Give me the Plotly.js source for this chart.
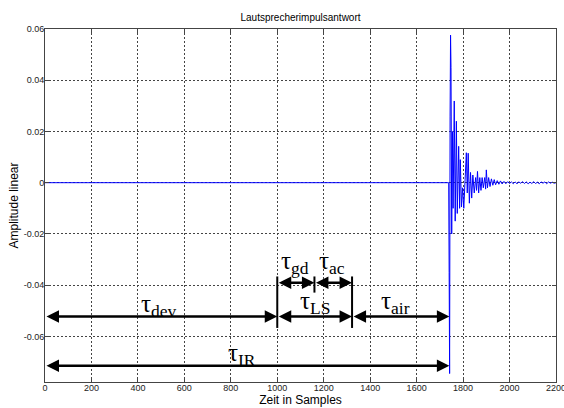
<!DOCTYPE html>
<html>
<head>
<meta charset="utf-8">
<script src="https://cdn.plot.ly/plotly-3.0.1.min.js"></script>
<style>html,body{margin:0;padding:0;background:#fff;}#chart{width:564px;height:408px;}</style>
</head>
<body>
<div id="chart"></div>
<script>
// ---- data ----
const sampleIdx = [0, 1738, 1740, 1742, 1744, 1746, 1748, 1751, 1754, 1757, 1762, 1766, 1771, 1775, 1781, 1785, 1788, 1793, 1798, 1803, 1808, 1814, 1818, 1822, 1827, 1832, 1837, 1842, 1848, 1854, 1858, 1862, 1867, 1872, 1877, 1882, 1887, 1893, 1897, 1900, 1905, 1910, 1916, 1922, 1928, 1934, 1940, 1947, 1954, 1961, 1968, 1976, 1984, 1992, 2000, 2008, 2016, 2024, 2032, 2040, 2048, 2056, 2064, 2072, 2080, 2088, 2096, 2104, 2112, 2120, 2128, 2136, 2144, 2152, 2160, 2168, 2176, 2184, 2192, 2200];
const amplitude = [0, 0, -0.035, -0.0745, 0.026, 0.0576, 0.045, -0.02, 0.02, -0.01, 0.0319, -0.015, 0.024, -0.012, 0.0142, -0.01, 0.009, -0.0095, -0.002, -0.01, 0.002, 0.0117, -0.004, 0.0115, -0.008, 0.004, -0.006, 0.003, -0.004, 0.002, -0.003, 0.0044, -0.004, 0.002, -0.003, 0.002, -0.002, 0.002, -0.0025, 0.005, -0.002, 0.002, -0.0015, 0.0015, -0.001, 0.0012, -0.0008, 0.0008, -0.0006, 0.0007, -0.0005, 0.0005, -0.0004, 0.0004, -0.0003, 0.0003, -0.0004, 0.0003, -0.0004, 0.0003, -0.0002, 0.0004, -0.0003, 0.0003, -0.0004, 0.0002, -0.0003, 0.0004, -0.0003, 0.0002, -0.0004, 0.0003, -0.0002, 0.0003, -0.0004, 0.0003, -0.0002, 0.0002, -0.0002, 0];

const xTickVals = [0, 200, 400, 600, 800, 1000, 1200, 1400, 1600, 1800, 2000, 2200];
const xTickText = ['0', '200', '400', '600', '800', '1000', '1200', '1400', '1600', '1800', '2000', '2200'];
const yTickVals = [-0.06, -0.04, -0.02, 0, 0.02, 0.04, 0.06];
const yTickText = ['-0.06', '-0.04', '-0.02', '0', '0.02', '0.04', '0.06'];

// event times (samples) marking the delay segments
const tStart = 0, tDev = 1000, tGd = 1160, tLs = 1322, tIr = 1741;
const segLabels = ['τ<sub>dev</sub>', 'τ<sub>LS</sub>', 'τ<sub>air</sub>', 'τ<sub>gd</sub>', 'τ<sub>ac</sub>', 'τ<sub>IR</sub>'];

// ---- drawing ----
const sans = 'Liberation Sans, Arial, sans-serif';
const axisFont = {family: sans, size: 9, color: '#222'};
const serif = {family: 'Liberation Serif, Times New Roman, serif', size: 25, color: '#000'};

function arrow(x0, x1, y) {
  return {x: x1, y: y, ax: x0, ay: y, xref: 'x', yref: 'y', axref: 'x', ayref: 'y',
    text: '', showarrow: true, arrowhead: 2, arrowsize: 1, arrowwidth: 2.5, arrowcolor: '#000',
    arrowside: 'end+start', startarrowhead: 2, startarrowsize: 1};
}
function label(x, y, t) {
  return {x: x, y: y, xref: 'x', yref: 'y', text: t, showarrow: false, font: serif,
    xanchor: 'center', yanchor: 'middle'};
}
const yRow1 = -0.0391, yRow2 = -0.0522, yRow3 = -0.0715;

const annotations = [
  arrow(tStart, tDev, yRow2), arrow(tDev, tLs, yRow2), arrow(tLs, tIr, yRow2),
  arrow(tDev, tGd, yRow1), arrow(tGd, tLs, yRow1), arrow(tStart, tIr, yRow3),
  label(489, -0.0478, segLabels[0]), label(1164, -0.0466, segLabels[1]), label(1508, -0.0466, segLabels[2]),
  label(1078, -0.031, segLabels[3]), label(1237, -0.031, segLabels[4]), label(849, -0.0669, segLabels[5])
];
function vbar(x, y0, y1) {
  return {type: 'line', xref: 'x', yref: 'y', x0: x, x1: x, y0: y0, y1: y1, line: {color: '#000', width: 2}};
}
const shapes = [vbar(tDev, -0.0366, -0.0567), vbar(tGd, -0.0366, -0.0429), vbar(tLs, -0.0366, -0.0567)];

const axisCommon = {
  ticks: 'inside', ticklen: 4, tickcolor: '#444', showline: true, mirror: 'ticks',
  linecolor: '#444', linewidth: 1, showgrid: true, gridcolor: '#444', griddash: '2px,2px',
  gridwidth: 1, zeroline: false, tickfont: axisFont, tickmode: 'array', ticklabeloverflow: 'allow'
};

Plotly.newPlot('chart', [{
  x: sampleIdx, y: amplitude, type: 'scatter', mode: 'lines',
  line: {color: '#0000ff', width: 1}, hoverinfo: 'none'
}], {
  width: 564, height: 408,
  margin: {l: 45, r: 8, t: 29, b: 26, pad: 0},
  paper_bgcolor: '#fff', plot_bgcolor: '#fff',
  showlegend: false,
  title: {text: 'Lautsprecherimpulsantwort', font: {family: sans, size: 10, color: '#000'},
    x: 0.5, xref: 'paper', xanchor: 'center', y: 1 - 17 / 408, yref: 'container', yanchor: 'middle'},
  xaxis: Object.assign({}, axisCommon, {range: [0, 2200], tickvals: xTickVals, ticktext: xTickText,
    ticklabelstandoff: -3,
    title: {text: 'Zeit in Samples', font: {family: sans, size: 12, color: '#000'}, standoff: 3}}),
  yaxis: Object.assign({}, axisCommon, {range: [-0.0778, 0.06], tickvals: yTickVals, ticktext: yTickText,
    ticklabelstandoff: -2,
    title: {text: 'Amplitude linear', font: {family: sans, size: 12, color: '#000'}, standoff: 2}}),
  annotations: annotations,
  shapes: shapes
}, {staticPlot: true});
</script>
</body>
</html>
